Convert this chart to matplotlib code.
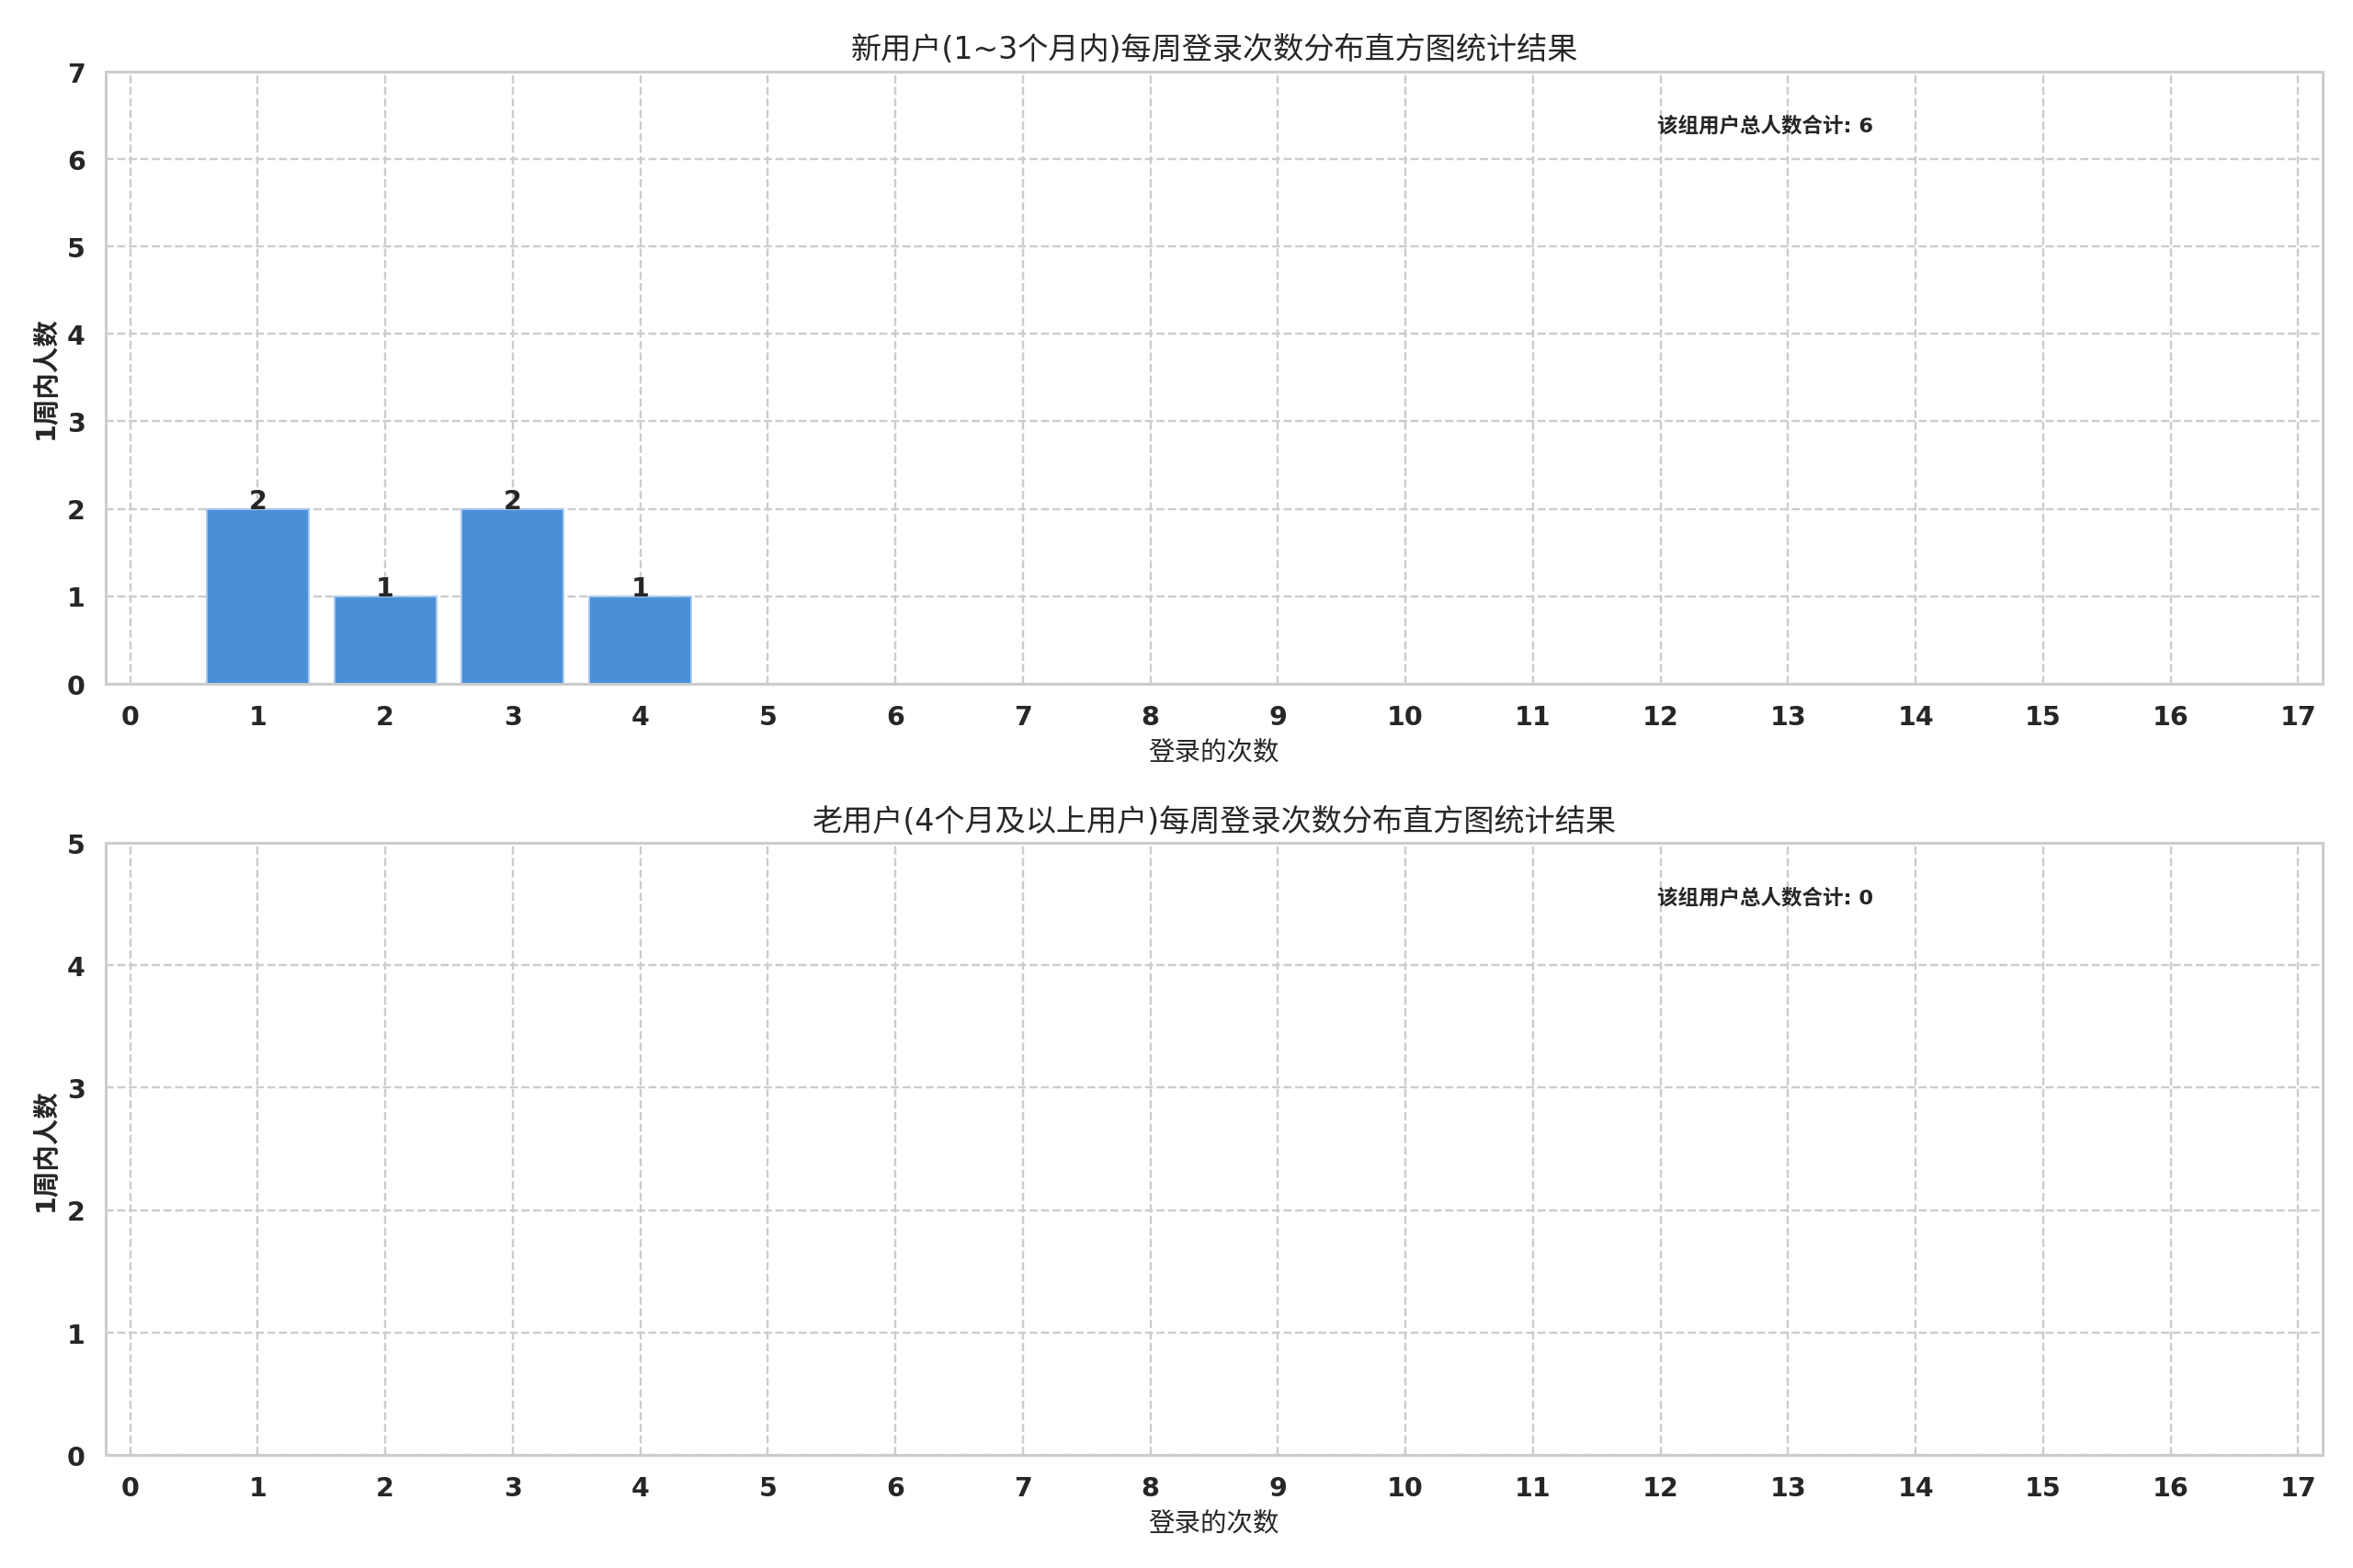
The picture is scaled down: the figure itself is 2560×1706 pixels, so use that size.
"""
Weekly login count distribution for new and old users.
"""

import matplotlib
matplotlib.use('Agg')
import matplotlib.pyplot as plt
import seaborn as sns

# Data
new_login_counts = [1, 2, 3, 4]
new_user_counts = [2, 1, 2, 1]
old_login_counts = []
old_user_counts = []

x_ticks = list(range(0, 18))

titles = ['新用户(1~3个月内)每周登录次数分布直方图统计结果',
          '老用户(4个月及以上用户)每周登录次数分布直方图统计结果']
x_label = '登录的次数'
y_label = '1周内人数'
total_label = '该组用户总人数合计'
y_limits = [7, 5]


def main():
    sns.set_theme(style='whitegrid')
    # DejaVu for digits/latin, CJK glyphs fall back to Noto
    plt.rcParams['font.family'] = ['DejaVu Sans', 'Noto Sans CJK SC']

    fig, axes = plt.subplots(2, 1, figsize=(15, 10), dpi=2560 / 15)
    fig.subplots_adjust(left=0.045, right=0.987, top=0.954, bottom=0.072, hspace=0.26)

    groups = [(new_login_counts, new_user_counts), (old_login_counts, old_user_counts)]

    for i, (ax, (xs, ys)) in enumerate(zip(axes, groups)):
        bars = ax.bar(xs, ys, width=0.8, color='#4a90d9', edgecolor='#a8c8ee', linewidth=0.8)
        for rect, val in zip(bars, ys):
            ax.text(rect.get_x() + rect.get_width() / 2, rect.get_height(), str(val),
                    ha='center', va='baseline', fontsize=12, fontweight='bold', color='#262626')

        ax.set_title(titles[i], fontsize=14, color='#262626', pad=6)
        ax.set_xlabel(x_label, fontsize=12, color='#262626')
        ax.set_ylabel(y_label, fontsize=12, fontweight='bold', color='#262626')
        ax.set_xticks(x_ticks)
        ax.set_xlim(-0.19, 17.19)
        ax.set_ylim(0, y_limits[i])
        ax.set_yticks(range(0, y_limits[i] + 1))
        for lbl in ax.get_xticklabels() + ax.get_yticklabels():
            lbl.set_fontweight('bold')
            lbl.set_fontsize(12)
        ax.grid(True, linestyle='--', color='#cccccc', linewidth=1.0)
        ax.set_axisbelow(True)
        for spine in ax.spines.values():
            spine.set_color('#cccccc')

        ax.text(0.70, 0.912, f'{total_label}: {sum(ys)}', transform=ax.transAxes,
                ha='left', va='center', fontsize=9.5, fontweight='bold', color='#262626')

    plt.savefig('out.png', dpi=2560 / 15)
    plt.close()


if __name__ == '__main__':
    main()
